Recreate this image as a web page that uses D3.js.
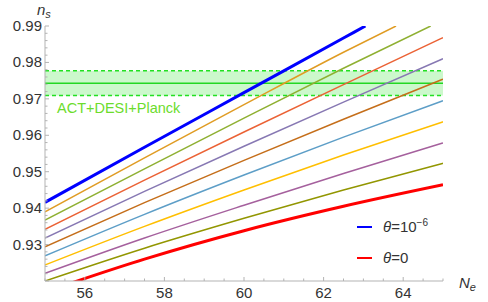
<!DOCTYPE html>
<html>
<head>
<meta charset="utf-8">
<script src="https://cdn.jsdelivr.net/npm/d3@7"></script>
<style>
  body { margin: 0; background: #fff; }
  text { font-family: "Liberation Sans", Arial, sans-serif; }
</style>
</head>
<body>
<svg id="chart" width="488" height="302"></svg>
<script>
// ── data ────────────────────────────────────────────
const xDomain = [55, 65];
const yDomain = [0.92, 0.99];
const xTicks = [56, 58, 60, 62, 64];
const yTicks = [0.93, 0.94, 0.95, 0.96, 0.97, 0.98, 0.99];

// theta = 1e-6 (thick blue) and theta = 0 (thick red)
const blueLine = [[55, 0.9416], [57.5, 0.9567], [60, 0.9717], [62.5, 0.9867], [63.05, 0.99]];
const redLine = [[55, 0.9170], [57.5, 0.9260], [60, 0.9338], [62.5, 0.9405], [65, 0.9464]];

// intermediate theta values, top to bottom
const midLines = [
  [[55, 0.9390], [57.5, 0.9538], [60, 0.9684], [62.5, 0.9828], [63.82, 0.99]],
  [[55, 0.9367], [57.5, 0.9508], [60, 0.9647], [62.5, 0.9784], [64.69, 0.99]],
  [[55, 0.9342], [57.5, 0.9477], [60, 0.9609], [62.5, 0.9739], [65, 0.9868]],
  [[55, 0.9318], [57.5, 0.9446], [60, 0.9570], [62.5, 0.9691], [65, 0.9810]],
  [[55, 0.9294], [57.5, 0.9415], [60, 0.9531], [62.5, 0.9644], [65, 0.9754]],
  [[55, 0.9269], [57.5, 0.9383], [60, 0.9491], [62.5, 0.9595], [65, 0.9695]],
  [[55, 0.9244], [57.5, 0.9350], [60, 0.9450], [62.5, 0.9546], [65, 0.9637]],
  [[55, 0.9221], [57.5, 0.9318], [60, 0.9408], [62.5, 0.9495], [65, 0.9579]],
  [[55, 0.9200], [57.5, 0.9290], [60, 0.9372], [62.5, 0.9450], [65, 0.9523]]
];
const midColors = ['#E09C24', '#8FB032', '#EB6235', '#8778B3', '#C56E1A',
                   '#5D9EC7', '#FFBF00', '#A5609D', '#929600'];

// ACT+DESI+Planck: n_s = 0.9743 ± 0.0034
const bandCenter = 0.9743;
const bandHalf = 0.0034;

// ── layout ──────────────────────────────────────────
const W = 488, H = 302;
const margin = { top: 26, right: 45, bottom: 21, left: 45 };
const innerW = W - margin.left - margin.right;
const innerH = H - margin.top - margin.bottom;
const axisColor = '#b3b3b3';
const labelColor = '#333';

const svg = d3.select('#chart');
const g = svg.append('g').attr('transform', `translate(${margin.left},${margin.top})`);

const x = d3.scaleLinear().domain(xDomain).range([0, innerW]);
const y = d3.scaleLinear().domain(yDomain).range([innerH, 0]);

svg.append('defs').append('clipPath').attr('id', 'plot-clip')
  .append('rect').attr('x', 0).attr('y', 0).attr('width', innerW).attr('height', innerH);

// Band
const band = g.append('g').attr('clip-path', 'url(#plot-clip)');
band.append('rect')
  .attr('x', 0).attr('width', innerW)
  .attr('y', y(bandCenter + bandHalf))
  .attr('height', y(bandCenter - bandHalf) - y(bandCenter + bandHalf))
  .attr('fill', '#ccf8cc');
[bandCenter + bandHalf, bandCenter - bandHalf].forEach(v => {
  band.append('line')
    .attr('x1', 0).attr('x2', innerW)
    .attr('y1', y(v)).attr('y2', y(v))
    .attr('stroke', '#22e022').attr('stroke-width', 1.5)
    .attr('stroke-dasharray', '4,3');
});
band.append('line')
  .attr('x1', 0).attr('x2', innerW)
  .attr('y1', y(bandCenter)).attr('y2', y(bandCenter))
  .attr('stroke', '#22d822').attr('stroke-width', 1.5);

g.append('text')
  .attr('x', 12).attr('y', 87)
  .attr('fill', '#6cdc2c')
  .attr('font-size', 14.5)
  .text('ACT+DESI+Planck');

// Curves
const line = d3.line()
  .x(d => x(d[0]))
  .y(d => y(d[1]))
  .curve(d3.curveMonotoneX);

const curves = g.append('g').attr('clip-path', 'url(#plot-clip)');
curves.selectAll('.mid')
  .data(midLines)
  .join('path')
  .attr('class', 'mid')
  .attr('d', line)
  .attr('fill', 'none')
  .attr('stroke', (d, i) => midColors[i])
  .attr('stroke-width', 1.5);

curves.append('path').attr('d', line(blueLine))
  .attr('fill', 'none').attr('stroke', '#0000ff').attr('stroke-width', 3);
curves.append('path').attr('d', line(redLine))
  .attr('fill', 'none').attr('stroke', '#ff0000').attr('stroke-width', 3);

// Axes (Mathematica style: ticks pointing inward)
const xAxis = g.append('g').attr('transform', `translate(0,${innerH})`);
xAxis.append('line').attr('x1', 0).attr('x2', innerW)
  .attr('stroke', axisColor).attr('stroke-width', 1);
const xMinor = d3.range(55, 65.01, 0.5);
xAxis.selectAll('.tick')
  .data(xMinor)
  .join('line')
  .attr('x1', d => x(d)).attr('x2', d => x(d))
  .attr('y1', 0)
  .attr('y2', d => xTicks.includes(d) ? -4 : -2.5)
  .attr('stroke', axisColor);
xAxis.selectAll('.lab')
  .data(xTicks)
  .join('text')
  .attr('x', d => x(d)).attr('y', 17)
  .attr('text-anchor', 'middle')
  .attr('font-size', 15)
  .attr('fill', labelColor)
  .text(d => d);

const yAxis = g.append('g');
yAxis.append('line').attr('y1', 0).attr('y2', innerH)
  .attr('stroke', axisColor).attr('stroke-width', 1);
const yMinor = d3.range(0, 36).map(i => 0.92 + i * 0.002);
yAxis.selectAll('.tick')
  .data(yMinor)
  .join('line')
  .attr('y1', d => y(d)).attr('y2', d => y(d))
  .attr('x1', 0)
  .attr('x2', (d, i) => i % 5 === 0 ? 4 : 2.5)
  .attr('stroke', axisColor);
yAxis.selectAll('.lab')
  .data(yTicks)
  .join('text')
  .attr('x', -3).attr('y', d => y(d) + 5)
  .attr('text-anchor', 'end')
  .attr('font-size', 15)
  .attr('fill', labelColor)
  .text(d => d3.format('.2f')(d));

// Axis labels
const ns = svg.append('text').attr('x', 37).attr('y', 15)
  .attr('font-size', 15).attr('fill', labelColor);
ns.append('tspan').attr('font-style', 'italic').text('n');
ns.append('tspan').attr('font-style', 'italic').attr('font-size', 11).attr('dy', 3).text('s');

const ne = svg.append('text').attr('x', 459).attr('y', 288)
  .attr('font-size', 15).attr('fill', labelColor);
ne.append('tspan').attr('font-style', 'italic').text('N');
ne.append('tspan').attr('font-style', 'italic').attr('font-size', 11).attr('dy', 3).text('e');

// Legend
const legend = svg.append('g');
const legendItems = [
  { color: '#0000ff', y: 227, sup: '\u22126', main: '=10' },
  { color: '#ff0000', y: 258, sup: null, main: '=0' }
];
legendItems.forEach(it => {
  legend.append('line')
    .attr('x1', 357).attr('x2', 372)
    .attr('y1', it.y).attr('y2', it.y)
    .attr('stroke', it.color).attr('stroke-width', 2);
  const t = legend.append('text')
    .attr('x', 383).attr('y', it.y + 5)
    .attr('font-size', 15).attr('fill', labelColor);
  t.append('tspan').attr('font-style', 'italic').text('\u03b8');
  t.append('tspan').text(it.main);
  if (it.sup) {
    t.append('tspan').attr('font-size', 10).attr('dy', -6).text(it.sup);
  }
});
</script>
</body>
</html>
